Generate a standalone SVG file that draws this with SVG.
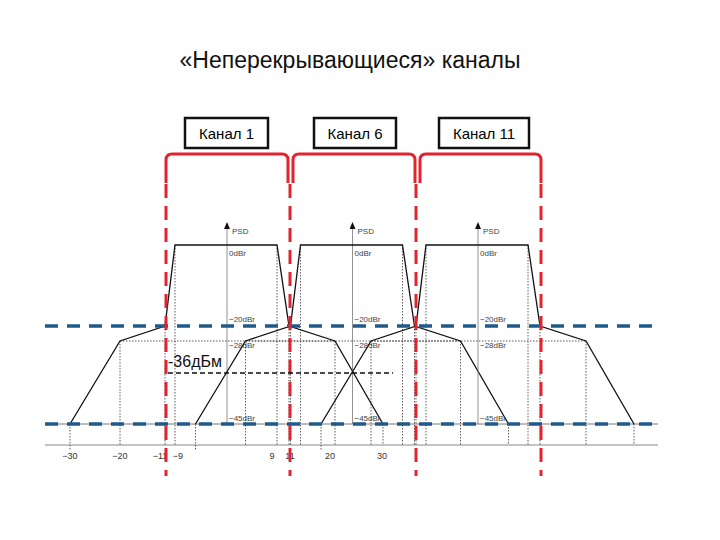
<svg xmlns="http://www.w3.org/2000/svg" width="720" height="540" viewBox="0 0 720 540">
<style>
.t{font-family:"Liberation Sans",Arial,sans-serif}
.sm{font-family:"Liberation Sans",Arial,sans-serif;font-size:8px;fill:#444}
.tk{font-family:"Liberation Sans",Arial,sans-serif;font-size:9px;fill:#333}
.mask{fill:none;stroke:#111;stroke-width:1.3}
.dot{stroke:#333;stroke-width:0.8;stroke-dasharray:1.5 1.5;fill:none}
.ax{stroke:#777;stroke-width:0.8}
.box{fill:#fff;stroke:#111;stroke-width:2.5}
.br{fill:none;stroke:#e0252e;stroke-width:3}
.rd{stroke:#e0252e;stroke-width:3;stroke-dasharray:14 8}
.bd{stroke:#1f5a8a;stroke-width:3.5;stroke-dasharray:13 9}
</style>
<defs>
<marker id="ar" markerWidth="7" markerHeight="6" refX="5" refY="3" orient="auto" markerUnits="userSpaceOnUse"><path d="M0,0 L7,3 L0,6 Z" fill="#111"/></marker>
<g id="chan">
<line class="ax" x1="227" y1="424" x2="227" y2="224" marker-end="url(#ar)"/>
<text class="sm" x="232" y="234">PSD</text>
<text class="sm" x="229" y="256">0dBr</text>
<text class="sm" x="229" y="322">−20dBr</text>
<text class="sm" x="229" y="348">−28dBr</text>
<text class="sm" x="229" y="421">−45dBr</text>
<line class="dot" x1="120" y1="341" x2="335" y2="341"/>
<path class="dot" d="M70,424V450 M120,341V445 M165,326V445 M175,245V445 M277,245V445 M289,326V445 M335,341V445 M383,424V445"/>
<path class="mask" d="M70,424 L120,341 L165,326 L175,245 L277,245 L289,326 L335,341 L383,424"/>
</g>
</defs>
<text class="t" x="350" y="68" font-size="23" text-anchor="middle" fill="#111">«Неперекрывающиеся» каналы</text>
<g id="baseline"><line x1="45" y1="445" x2="658" y2="445" stroke="#888" stroke-width="1"/>
<line x1="45" y1="424" x2="658" y2="424" stroke="#555" stroke-width="0.8"/></g>
<g id="ch1"><use href="#chan"/></g>
<g id="ch6"><use href="#chan" transform="translate(125.5,0)"/></g>
<g id="ch11"><use href="#chan" transform="translate(251,0)"/></g>
<g id="ticks">
<text class="tk" x="70" y="459" text-anchor="middle">−30</text>
<text class="tk" x="120" y="459" text-anchor="middle">−20</text>
<text class="tk" x="160" y="459" text-anchor="middle">−11</text>
<text class="tk" x="178" y="459" text-anchor="middle">−9</text>
<text class="tk" x="272" y="459" text-anchor="middle">9</text>
<text class="tk" x="290" y="459" text-anchor="middle">11</text>
<text class="tk" x="330" y="459" text-anchor="middle">20</text>
<text class="tk" x="382" y="459" text-anchor="middle">30</text>
</g>
<g id="connectors">
<line class="bd" x1="45" y1="326" x2="658" y2="326"/>
<line class="bd" x1="45" y1="424" x2="658" y2="424"/>
<line class="rd" x1="166" y1="184" x2="166" y2="476"/>
<line class="rd" x1="290" y1="184" x2="290" y2="476"/>
<line class="rd" x1="416" y1="184" x2="416" y2="476"/>
<line class="rd" x1="541" y1="184" x2="541" y2="476"/>
<line x1="168" y1="373" x2="393" y2="373" stroke="#111" stroke-width="1.5" stroke-dasharray="5 3"/>
</g>
<g id="label36"><text class="t" x="168" y="367" font-size="16" fill="#111">-36дБм</text></g>
<g id="k1">
<path class="br" d="M166,183 V160 Q166,154 172,154 H282 Q288,154 288,160 V183"/>
<rect class="box" x="185" y="118" width="83" height="30"/>
<text class="t" x="226.5" y="139" font-size="15" text-anchor="middle">Канал 1</text></g>
<g id="k6">
<path class="br" d="M293,183 V160 Q293,154 299,154 H409 Q415,154 415,160 V183"/>
<rect class="box" x="314" y="118" width="82" height="30"/>
<text class="t" x="355" y="139" font-size="15" text-anchor="middle">Канал 6</text></g>
<g id="k11">
<path class="br" d="M420,183 V160 Q420,154 426,154 H535 Q541,154 541,160 V183"/>
<rect class="box" x="439" y="118" width="90" height="30"/>
<text class="t" x="484" y="139" font-size="15" text-anchor="middle">Канал 11</text></g>
</svg>
